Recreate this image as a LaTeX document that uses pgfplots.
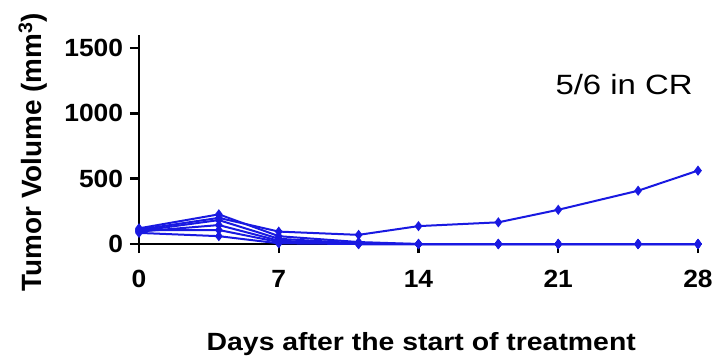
\documentclass[border=0pt]{standalone}
\usepackage{pgfplots}
\pgfplotsset{compat=1.18}
\usepackage{fontspec}
\setmainfont{Liberation Sans}
\definecolor{tblue}{RGB}{25,25,225}
\begin{document}
\begin{tikzpicture}
\begin{axis}[
  at={(0,0)}, anchor=south west,
  scale only axis, width=559bp, height=209bp,
  xmin=0, xmax=28, ymin=0, ymax=1600,
  axis lines=left,
  x axis line style={-, line width=2.4bp},
  y axis line style={-, line width=2.4bp},
  xtick={0,7,14,21,28}, ytick={0,500,1000,1500},
  xtick pos=bottom, ytick pos=left,
  tick align=outside,
  tickwidth=9bp,
  every tick/.append style={line width=2.4bp, draw=black},
  ticklabel style={font=\fontsize{25}{27}\selectfont\bfseries, xscale=1.06},
  xticklabel style={yshift=-14bp},
  yticklabel style={xshift=-3bp},
  /pgf/number format/assume math mode=true,
  /pgf/number format/1000 sep={},
  xlabel={Days after the start of treatment},
  ylabel={Tumor Volume (mm\textsuperscript{3})},
  xlabel style={font=\fontsize{25}{27}\selectfont\bfseries, xscale=1.14, at={(axis description cs:0.505,-0.48)}, anchor=center},
  ylabel style={font=\fontsize{28}{30}\selectfont\bfseries, at={(axis description cs:-0.19,0.44)}, anchor=center},
  clip=false,
  s/.style={tblue, line width=2bp, mark=diamond*, mark size=3.5bp, mark options={solid, fill=tblue, draw=tblue}},
]
\draw[line width=2.4bp, black] (axis cs:0,0) -- ++(0,-9bp);
\draw[line width=2.4bp, black] (axis cs:7,0) -- ++(0,-9bp);
\draw[line width=2.4bp, black] (axis cs:14,0) -- ++(0,-9bp);
\draw[line width=2.4bp, black] (axis cs:21,0) -- ++(0,-9bp);
\draw[line width=2.4bp, black] (axis cs:28,0) -- ++(0,-9bp);
\draw[line width=2.4bp, black] (axis cs:0,0) -- ++(-9bp,0);
\draw[line width=2.4bp, black] (axis cs:0,500) -- ++(-9bp,0);
\draw[line width=2.4bp, black] (axis cs:0,1000) -- ++(-9bp,0);
\draw[line width=2.4bp, black] (axis cs:0,1500) -- ++(-9bp,0);
\addplot[s] coordinates {(0,110) (4,200) (7,95) (11,70) (14,137) (18,166) (21,262) (25,408) (28,562)};
\addplot[s] coordinates {(0,120) (4,227) (7,60) (11,15) (14,0) (18,0) (21,0) (25,0) (28,0)};
\addplot[s] coordinates {(0,100) (4,183) (7,40) (11,5) (14,0) (18,0) (21,0) (25,0) (28,0)};
\addplot[s] coordinates {(0,95) (4,145) (7,25) (11,0) (14,0) (18,0) (21,0) (25,0) (28,0)};
\addplot[s] coordinates {(0,105) (4,107) (7,15) (11,0) (14,0) (18,0) (21,0) (25,0) (28,0)};
\addplot[s] coordinates {(0,85) (4,60) (7,5) (11,0) (14,0) (18,0) (21,0) (25,0) (28,0)};
\node[font=\fontsize{28}{30}\selectfont, xscale=1.18, anchor=center] at (axis cs:24.3,1220) {5/6 in CR};
\end{axis}
\path[use as bounding box] (-139bp,-114bp) rectangle (579bp,244bp);
\end{tikzpicture}
\end{document}
